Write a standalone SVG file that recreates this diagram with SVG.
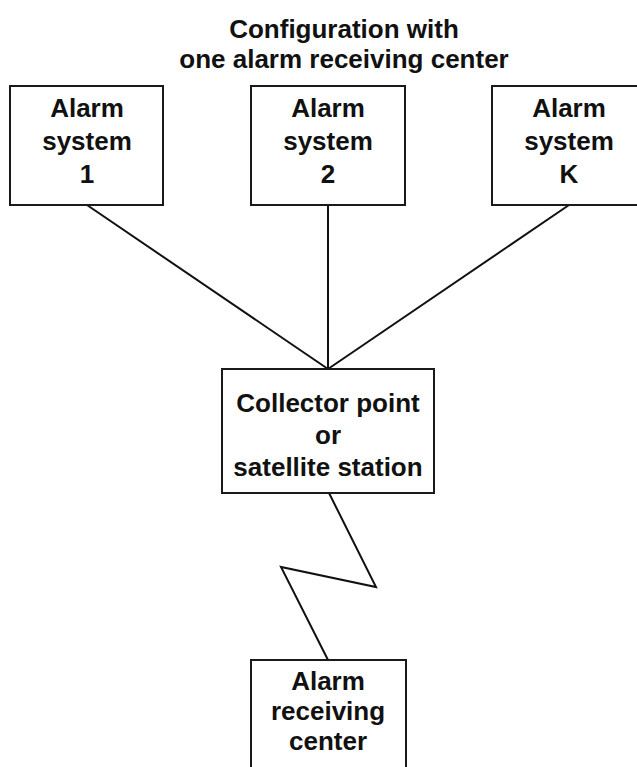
<svg xmlns="http://www.w3.org/2000/svg" width="637" height="767" viewBox="0 0 637 767">
<style>
.box{fill:#fff;stroke:#1a1a1a;stroke-width:2}
.t{font-family:"Liberation Sans",Arial,sans-serif;font-weight:bold;font-size:26px;fill:#111;text-anchor:middle}
.ln{fill:none;stroke:#111;stroke-width:2}
</style>
<rect width="637" height="767" fill="#fff"/>
<g id="title">
<text class="t" x="344" y="38">Configuration with</text>
<text class="t" x="344" y="68">one alarm receiving center</text>
</g>
<g id="connectors">
<line class="ln" x1="87" y1="205" x2="328" y2="369"/>
<line class="ln" x1="328" y1="205" x2="328" y2="369"/>
<line class="ln" x1="569" y1="205" x2="328" y2="369"/>
<polyline class="ln" points="329,493 376,587 281,567 328,660"/>
</g>
<g id="alarm1">
<rect class="box" x="10" y="86" width="153" height="119"/>
<text class="t" x="87" y="117">Alarm</text>
<text class="t" x="87" y="150">system</text>
<text class="t" x="87" y="183">1</text>
</g>
<g id="alarm2">
<rect class="box" x="251" y="86" width="154" height="119"/>
<text class="t" x="328" y="117">Alarm</text>
<text class="t" x="328" y="150">system</text>
<text class="t" x="328" y="183">2</text>
</g>
<g id="alarmK">
<rect class="box" x="492" y="86" width="154" height="119"/>
<text class="t" x="569" y="117">Alarm</text>
<text class="t" x="569" y="150">system</text>
<text class="t" x="569" y="183">K</text>
</g>
<g id="collector">
<rect class="box" x="222" y="369" width="212" height="124"/>
<text class="t" x="328" y="412">Collector point</text>
<text class="t" x="328" y="444">or</text>
<text class="t" x="328" y="476">satellite station</text>
</g>
<g id="arc">
<rect class="box" x="251" y="660" width="155" height="120"/>
<text class="t" x="328" y="690">Alarm</text>
<text class="t" x="328" y="720">receiving</text>
<text class="t" x="328" y="750">center</text>
</g>
</svg>
